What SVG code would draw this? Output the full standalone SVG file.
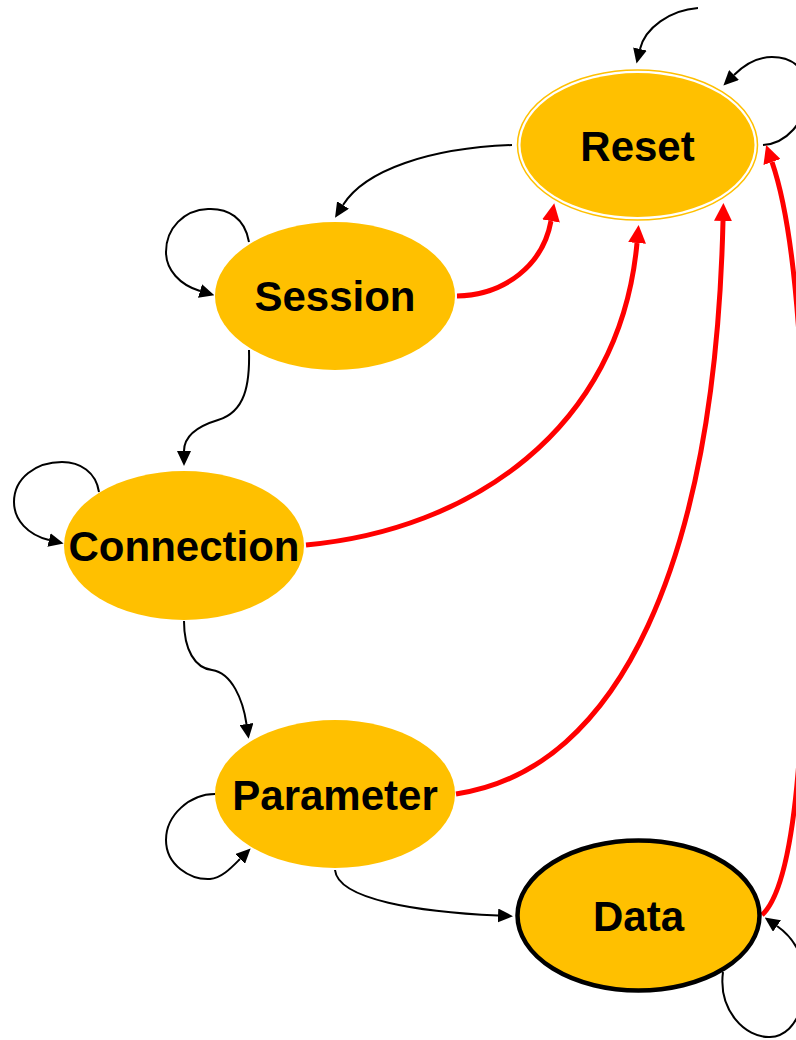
<svg xmlns="http://www.w3.org/2000/svg" width="796" height="1040" viewBox="0 0 796 1040">
<style>
.node{fill:#FFC000;}
.lbl{font-family:"Liberation Sans",Arial,sans-serif;font-weight:bold;font-size:42px;fill:#000;text-anchor:middle;}
.blk{fill:none;stroke:#000;stroke-width:2;marker-end:url(#ab);}
.red{fill:none;stroke:#FF0000;stroke-width:5;marker-end:url(#ar);}
</style>
<defs>
<marker id="ab" markerUnits="userSpaceOnUse" markerWidth="15" markerHeight="14" refX="0" refY="7" orient="auto"><path d="M0,0 L15,7 L0,14 z" fill="#000"/></marker>
<marker id="ar" markerUnits="userSpaceOnUse" markerWidth="18" markerHeight="18" refX="0" refY="9" orient="auto"><path d="M0,0 L18,9 L0,18 z" fill="#FF0000"/></marker>
</defs>
<rect width="796" height="1040" fill="#fff"/>
<g id="connectors">
<path class="blk" d="M698,8 C670,10 645,28 640,49"/>
<path class="blk" d="M763,145 C812,142 828,57 772,57 C756,57 743,66 734,75"/>
<path class="blk" d="M512,145 C430,148 365,170 343,205"/>
<path class="blk" d="M249,242 C245,218 228,208 208,209 C184,210 166,228 166,252 C166,270 180,285 200,291"/>
<path class="blk" d="M249,350 C250,385 245,412 218,420 C195,427 184,438 184,451"/>
<path class="blk" d="M99,492 C96,472 80,462 62,462 C36,462 14,478 14,502 C14,520 28,535 49,540"/>
<path class="blk" d="M184,621 C184,650 195,668 212,670 C232,673 243,700 246.5,724"/>
<path class="blk" d="M215,794 C190,794 166,815 166,840 C166,865 190,880 210,879 C222,878 232,867 240,859"/>
<path class="blk" d="M335,870 C338,900 420,912 498,915.5"/>
<path class="blk" d="M723,972 C718,1010 745,1038 770,1037 C800,1036 812,990 800,955 C795,942 787,933 777,926"/>
<path class="red" d="M457,296 C505,295 543,265 551,221"/>
<path class="red" d="M306,545 C470,530 620,430 637,243"/>
<path class="red" d="M456,794 C620,770 715,560 723,221"/>
<path class="red" d="M762,915 C800,880 806,700 805,520 C804,340 792,220 772,162"/>
</g>
<g id="reset">
<ellipse cx="637.5" cy="145" rx="120" ry="75" fill="none" stroke="#FFC000" stroke-width="1.5"/>
<ellipse class="node" cx="637.5" cy="145" rx="117" ry="72"/>
<text class="lbl" x="637.5" y="161">Reset</text>
</g>
<g id="session">
<ellipse class="node" cx="335" cy="296" rx="120" ry="74"/>
<text class="lbl" x="335" y="311">Session</text>
</g>
<g id="connection">
<ellipse class="node" cx="184" cy="545.5" rx="120" ry="74.5"/>
<text class="lbl" x="184" y="561">Connection</text>
</g>
<g id="parameter">
<ellipse class="node" cx="335" cy="794" rx="120" ry="74"/>
<text class="lbl" x="335" y="810">Parameter</text>
</g>
<g id="data">
<ellipse class="node" cx="638.5" cy="915.5" rx="121" ry="75" stroke="#000" stroke-width="4.5"/>
<text class="lbl" x="638.5" y="931">Data</text>
</g>
</svg>
